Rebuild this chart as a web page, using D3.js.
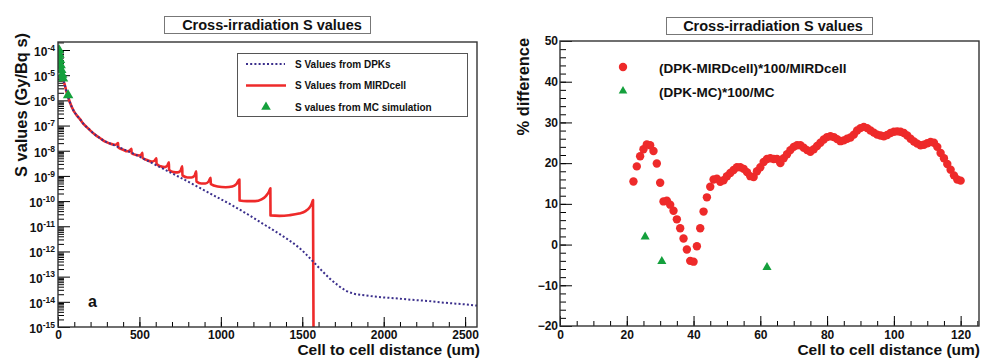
<!DOCTYPE html>
<html>
<head>
<meta charset="utf-8">
<script src="https://cdn.jsdelivr.net/npm/d3@7"></script>
<style>
  html, body { margin: 0; padding: 0; background: #fff; }
  svg { display: block; }
  text { font-family: "Liberation Sans", Arial, Helvetica, sans-serif; font-weight: bold; fill: #111; }
</style>
</head>
<body>
<svg id="chart" width="982" height="359"></svg>
<script>
// ---- Panel (a): cross-irradiation S values vs distance ----
const dpkDist = [10, 15, 20, 25, 30, 40, 50, 63, 84, 100, 114, 135, 155, 176, 196, 216, 237, 257, 277, 298, 318, 340, 360,
  400, 461, 543, 665, 767, 869, 971, 1073, 1176, 1278, 1359, 1420, 1481, 1522, 1563, 1614, 1665, 1716, 1767, 1818, 1869,
  1971, 2073, 2175, 2277, 2350, 2420, 2500, 2573];
const dpkS = [5.6e-5, 2.8e-5, 1.6e-5, 1.0e-5, 7.1e-6, 4.5e-6, 2.5e-6, 1.3e-6, 5.6e-7, 3.5e-7, 2.6e-7, 1.8e-7, 1.2e-7, 8.7e-8,
  6.6e-8, 5.0e-8, 3.9e-8, 3.2e-8, 2.6e-8, 2.2e-8, 1.95e-8, 1.7e-8, 1.5e-8,
  1.17e-8, 7.8e-9, 4.2e-9, 1.66e-9, 7.6e-10, 3.4e-10, 1.5e-10, 6.6e-11, 2.7e-11, 1.05e-11, 5.0e-12, 2.75e-12, 1.4e-12,
  7.9e-13, 4.2e-13, 1.9e-13, 8.9e-14, 4.7e-14, 2.8e-14, 2.1e-14, 1.86e-14,
  1.55e-14, 1.38e-14, 1.2e-14, 1.07e-14, 9.5e-15, 8.7e-15, 7.9e-15, 7.1e-15];

const mirdDist = [10, 15, 20, 25, 30, 40, 50, 63, 84, 100, 114, 135, 155, 176, 196, 216, 237, 257, 277, 298, 318, 340, 355,
  369, 370, 400, 425, 440, 451,
  452, 480, 500, 512, 518,
  519, 550, 575, 592, 604,
  605, 630, 655, 670, 681,
  682, 710, 735, 752, 763,
  764, 795, 820, 838, 849,
  850, 880, 905, 925, 937,
  938, 980, 1030, 1070, 1095, 1114,
  1115, 1160, 1210, 1250, 1278, 1296, 1304,
  1305, 1360, 1420, 1480, 1520, 1545, 1558, 1566, 1569];
const mirdS = [5.6e-5, 2.8e-5, 1.6e-5, 1.0e-5, 7.1e-6, 4.5e-6, 2.5e-6, 1.3e-6, 5.6e-7, 3.5e-7, 2.6e-7, 1.8e-7, 1.2e-7, 8.7e-8,
  6.6e-8, 5.0e-8, 3.9e-8, 3.2e-8, 2.6e-8, 2.2e-8, 1.95e-8, 1.78e-8, 1.74e-8,
  2.0e-8, 1.38e-8, 1.1e-8, 9.5e-9, 1.0e-8, 1.2e-8,
  7.9e-9, 6.8e-9, 6.5e-9, 7.1e-9, 8.3e-9,
  5.2e-9, 4.2e-9, 3.7e-9, 4.0e-9, 5.0e-9,
  3.0e-9, 2.4e-9, 2.24e-9, 2.5e-9, 3.5e-9,
  1.74e-9, 1.41e-9, 1.38e-9, 1.58e-9, 2.4e-9,
  1.05e-9, 8.7e-10, 8.7e-10, 1.0e-9, 1.51e-9,
  6.0e-10, 5.0e-10, 5.0e-10, 6.0e-10, 8.5e-10,
  4.8e-10, 3.8e-10, 3.55e-10, 3.8e-10, 4.7e-10, 7.1e-10,
  1.05e-10, 1.0e-10, 1.0e-10, 1.17e-10, 1.62e-10, 2.4e-10, 3.2e-10,
  2.7e-11, 2.6e-11, 2.75e-11, 3.2e-11, 4.0e-11, 5.6e-11, 7.9e-11, 1.1e-10, 1e-15];

const mcDist = [6, 9, 12, 16, 20, 25.5, 30.5, 62];
const mcS = [1.0e-4, 6.5e-5, 4.0e-5, 2.5e-5, 1.6e-5, 1.05e-5, 7.4e-6, 1.6e-6];

const leftXTicks = [0, 500, 1000, 1500, 2000, 2500];
const leftDecades = [-15, -14, -13, -12, -11, -10, -9, -8, -7, -6, -5, -4];

// ---- Panel (b): percentage differences ----
const diffDist = [22, 23, 24, 25, 26, 27, 28, 29, 30, 31, 32, 33, 34, 35, 36, 37, 38, 39, 40, 41, 42, 43, 44, 45, 46, 47, 48, 49,
  50, 51, 52, 53, 54, 55, 56, 57, 58, 59, 60, 61, 62, 63, 64, 65, 66, 67, 68, 69, 70, 71, 72, 73, 74, 75, 76, 77, 78, 79,
  80, 81, 82, 83, 84, 85, 86, 87, 88, 89, 90, 91, 92, 93, 94, 95, 96, 97, 98, 99, 100, 101, 102, 103, 104, 105, 106, 107, 108, 109,
  110, 111, 112, 113, 114, 115, 116, 117, 118, 119, 120];
const diffMird = [15.5, 19.2, 21.7, 23.4, 24.6, 24.4, 23.0, 19.9, 15.2, 10.6, 10.8, 9.8, 8.3, 6.2, 4.0, 1.5, -1.2, -4.0, -4.2, -0.4,
  4.0, 8.1, 11.6, 14.2, 16.0, 16.2, 15.4, 15.8, 16.8, 17.6, 18.3, 19.0, 19.0, 18.6, 17.8, 16.8, 16.6, 18.0, 19.0, 20.3,
  21.0, 21.2, 21.0, 21.0, 20.0, 21.2, 22.2, 23.2, 24.0, 24.4, 24.4, 23.8, 23.2, 22.8, 23.4, 24.2, 25.0, 25.8,
  26.4, 26.6, 26.4, 25.9, 25.4, 25.6, 26.0, 26.3, 27.0, 28.0, 28.6, 28.9, 28.6, 28.0, 27.5, 27.0, 26.8, 26.6, 26.9, 27.4,
  27.7, 27.8, 27.7, 27.4, 26.8, 26.0, 25.3, 24.8, 24.4, 24.5, 24.9, 25.2, 25.0, 24.0, 22.5, 21.2, 19.8, 18.4, 17.0, 16.0, 15.7];
const diffMcDist = [25.5, 30.5, 62];
const diffMc = [1.9, -4.1, -5.6];

const rightXTicks = [0, 20, 40, 60, 80, 100, 120];
const rightYTicks = [-20, -10, 0, 10, 20, 30, 40, 50];

const RED = "#ee2a2a", BLUE = "#3b2f8c", GREEN = "#14a03c", FRAME = "#333";
const intFmt = d3.format("d");

const svg = d3.select("#chart");

// ---------- Panel (a) ----------
const L = { left: 58, right: 477, top: 42, bottom: 327 };
const xL = d3.scaleLinear().domain([0, 2573]).range([L.left, L.right]);
const yL = d3.scaleLog().domain([1e-15, Math.pow(10, -3.682)]).range([L.bottom, L.top]);

const gA = svg.append("g");
gA.append("clipPath").attr("id", "clipA").append("rect")
  .attr("x", L.left).attr("y", L.top).attr("width", L.right - L.left).attr("height", L.bottom - L.top);

// x axis: major ticks with labels, minor every 100
gA.append("g").attr("transform", `translate(0,${L.bottom})`)
  .call(d3.axisBottom(xL).tickValues(d3.range(0, 2573, 100)).tickSizeInner(-5).tickSizeOuter(0).tickFormat(""))
  .call(g => g.select(".domain").remove());
gA.append("g").attr("transform", `translate(0,${L.bottom})`)
  .call(d3.axisBottom(xL).tickValues(leftXTicks).tickSizeInner(-10).tickSizeOuter(0).tickPadding(3).tickFormat(intFmt))
  .call(g => g.select(".domain").remove())
  .call(g => g.selectAll("text").attr("font-size", 12).attr("font-weight", "bold").attr("fill", "#111"));

// y axis: log minor ticks and decade ticks with 10^n labels
const minorLog = [];
leftDecades.forEach(d => { for (let k = 2; k <= 9; k++) { const v = k * Math.pow(10, d); if (v < yL.domain()[1]) minorLog.push(v); } });
gA.append("g").attr("transform", `translate(${L.left},0)`)
  .call(d3.axisLeft(yL).tickValues(minorLog).tickSizeInner(-6).tickSizeOuter(0).tickFormat(""))
  .call(g => g.select(".domain").remove());
const yAxA = gA.append("g").attr("transform", `translate(${L.left},0)`)
  .call(d3.axisLeft(yL).tickValues(leftDecades.map(d => Math.pow(10, d))).tickSizeInner(-12).tickSizeOuter(0).tickPadding(3).tickFormat(""))
  .call(g => g.select(".domain").remove());
yAxA.selectAll(".tick").each(function (v) {
  const t = d3.select(this).append("text").attr("x", -3).attr("dy", "0.45em")
    .attr("text-anchor", "end").attr("fill", "#111").attr("font-size", 12);
  t.append("tspan").text("10");
  t.append("tspan").attr("dy", "-0.6em").attr("font-size", 8.5).text(Math.round(Math.log10(v)));
});

// curves
const lineDpk = d3.line().x(d => xL(d[0])).y(d => yL(d[1])).curve(d3.curveMonotoneX);
const lineMird = d3.line().x(d => xL(d[0])).y(d => yL(d[1])).curve(d3.curveMonotoneX);
const plotA = gA.append("g").attr("clip-path", "url(#clipA)");
plotA.append("path").datum(d3.zip(mirdDist, mirdS))
  .attr("d", lineMird).attr("fill", "none").attr("stroke", RED).attr("stroke-width", 2.6).attr("stroke-linejoin", "round");
plotA.append("path").datum(d3.zip(dpkDist, dpkS))
  .attr("d", lineDpk).attr("fill", "none").attr("stroke", BLUE).attr("stroke-width", 2)
  .attr("stroke-dasharray", "2,2.2");
const tri = d3.symbol().type(d3.symbolTriangle);
plotA.selectAll(".mc").data(d3.zip(mcDist, mcS)).join("path")
  .attr("transform", d => `translate(${xL(d[0])},${yL(d[1])})`)
  .attr("d", tri.size(48)()).attr("fill", GREEN);

// frame
gA.append("rect").attr("x", L.left).attr("y", L.top).attr("width", L.right - L.left).attr("height", L.bottom - L.top)
  .attr("fill", "none").attr("stroke", FRAME).attr("stroke-width", 1.4);

// title box
gA.append("rect").attr("x", 164.5).attr("y", 16.5).attr("width", 206).attr("height", 17)
  .attr("fill", "#fff").attr("stroke", "#777").attr("stroke-width", 1);
gA.append("text").attr("x", 272).attr("y", 30).attr("text-anchor", "middle").attr("font-size", 14.5)
  .text("Cross-irradiation S values");

// legend
gA.append("rect").attr("x", 237.5).attr("y", 53.5).attr("width", 230).attr("height", 63)
  .attr("fill", "#fff").attr("stroke", "#555").attr("stroke-width", 1);
const legA = [
  { label: "S Values from DPKs", kind: "dpk" },
  { label: "S Values from MIRDcell", kind: "mird" },
  { label: "S values from MC simulation", kind: "mc" }
];
legA.forEach((e, i) => {
  const yy = 64 + i * 21.5;
  if (e.kind === "dpk") {
    gA.append("line").attr("x1", 246).attr("x2", 285).attr("y1", yy).attr("y2", yy)
      .attr("stroke", BLUE).attr("stroke-width", 2).attr("stroke-dasharray", "2,2.2");
  } else if (e.kind === "mird") {
    gA.append("line").attr("x1", 246).attr("x2", 286).attr("y1", yy).attr("y2", yy)
      .attr("stroke", RED).attr("stroke-width", 2.6);
  } else {
    gA.append("path").attr("transform", `translate(266,${yy})`).attr("d", tri.size(40)()).attr("fill", GREEN);
  }
  gA.append("text").attr("x", 295).attr("y", yy + 3.6).attr("font-size", 10).text(e.label);
});

gA.append("text").attr("x", 88).attr("y", 307).attr("font-size", 16).text("a");

// axis titles
gA.append("text").attr("x", 480).attr("y", 355).attr("text-anchor", "end").attr("font-size", 15.5)
  .text("Cell to cell distance (um)");
gA.append("text").attr("transform", "translate(27,33) rotate(-90)").attr("text-anchor", "end").attr("font-size", 16.4)
  .text("S values (Gy/Bq s)");

// ---------- Panel (b) ----------
const R = { left: 560, right: 979, top: 41, bottom: 326 };
const xR = d3.scaleLinear().domain([0, 125.5]).range([R.left, R.right]);
const yR = d3.scaleLinear().domain([-20, 50]).range([R.bottom, R.top]);
const gB = svg.append("g");

gB.append("g").attr("transform", `translate(0,${R.bottom})`)
  .call(d3.axisBottom(xR).tickValues(d3.range(0, 126, 5)).tickSizeInner(-5).tickSizeOuter(0).tickFormat(""))
  .call(g => g.select(".domain").remove());
gB.append("g").attr("transform", `translate(0,${R.bottom})`)
  .call(d3.axisBottom(xR).tickValues(rightXTicks).tickSizeInner(-10).tickSizeOuter(0).tickPadding(4).tickFormat(intFmt))
  .call(g => g.select(".domain").remove())
  .call(g => g.selectAll("text").attr("font-size", 12).attr("font-weight", "bold").attr("fill", "#111"));
gB.append("g").attr("transform", `translate(${R.left},0)`)
  .call(d3.axisLeft(yR).tickValues(d3.range(-20, 51, 2)).tickSizeInner(-6).tickSizeOuter(0).tickFormat(""))
  .call(g => g.select(".domain").remove());
gB.append("g").attr("transform", `translate(${R.left},0)`)
  .call(d3.axisLeft(yR).tickValues(rightYTicks).tickSizeInner(-12).tickSizeOuter(0).tickPadding(2).tickFormat(intFmt))
  .call(g => g.select(".domain").remove())
  .call(g => g.selectAll("text").attr("font-size", 12).attr("font-weight", "bold").attr("fill", "#111"));

gB.selectAll(".diff").data(d3.zip(diffDist, diffMird)).join("circle")
  .attr("cx", d => xR(d[0])).attr("cy", d => yR(d[1])).attr("r", 4.2).attr("fill", RED);
gB.selectAll(".diffmc").data(d3.zip(diffMcDist, diffMc)).join("path")
  .attr("transform", d => `translate(${xR(d[0])},${yR(d[1])})`)
  .attr("d", tri.size(36)()).attr("fill", GREEN);

gB.append("rect").attr("x", R.left).attr("y", R.top).attr("width", R.right - R.left).attr("height", R.bottom - R.top)
  .attr("fill", "none").attr("stroke", FRAME).attr("stroke-width", 1.4);

gB.append("rect").attr("x", 666.5).attr("y", 17.5).attr("width", 206).attr("height", 17)
  .attr("fill", "#fff").attr("stroke", "#777").attr("stroke-width", 1);
gB.append("text").attr("x", 773).attr("y", 31).attr("text-anchor", "middle").attr("font-size", 14.5)
  .text("Cross-irradiation S values");

gB.append("circle").attr("cx", 623).attr("cy", 67).attr("r", 4.2).attr("fill", RED);
gB.append("text").attr("x", 659).attr("y", 73).attr("font-size", 13.5).text("(DPK-MIRDcell)*100/MIRDcell");
gB.append("path").attr("transform", "translate(623,91)").attr("d", tri.size(32)()).attr("fill", GREEN);
gB.append("text").attr("x", 659).attr("y", 97).attr("font-size", 13.5).text("(DPK-MC)*100/MC");

gB.append("text").attr("x", 980).attr("y", 355).attr("text-anchor", "end").attr("font-size", 15.5)
  .text("Cell to cell distance (um)");
gB.append("text").attr("transform", "translate(529,38) rotate(-90)").attr("text-anchor", "end").attr("font-size", 16.4)
  .text("% difference");
</script>
</body>
</html>
